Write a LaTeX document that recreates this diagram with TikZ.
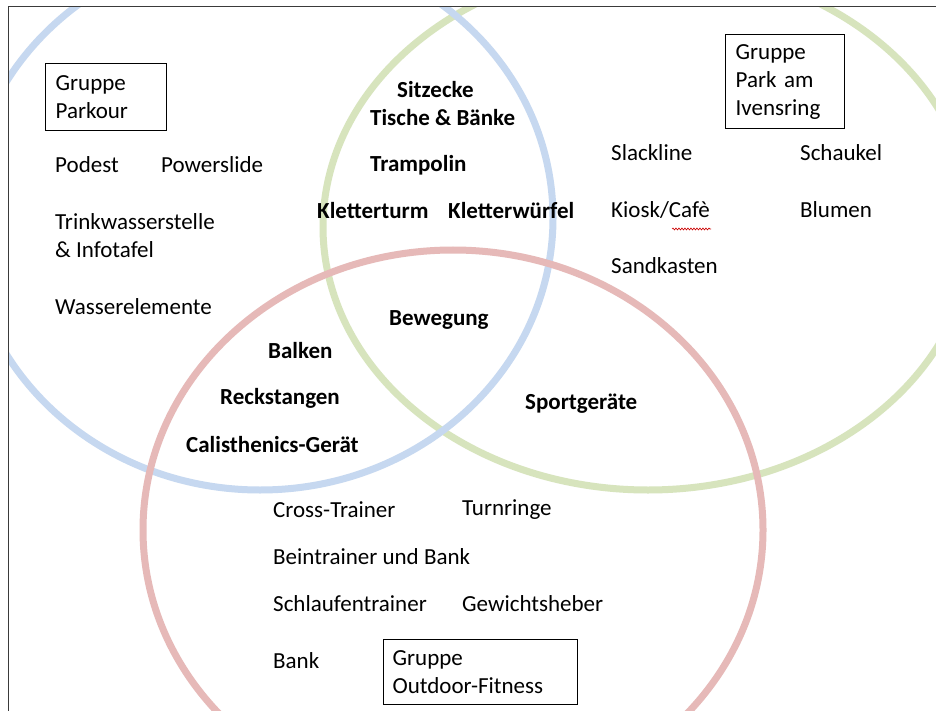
\documentclass[tikz,border=0pt]{standalone}
\usepackage{fontspec}
\setmainfont{Carlito}
\usetikzlibrary{decorations.pathmorphing}
\definecolor{vblue}{HTML}{C6D8F0}
\definecolor{vgreen}{HTML}{D7E4BD}
\definecolor{vred}{HTML}{E6B9B8}
\definecolor{framegray}{HTML}{3A3A3A}
\tikzset{
  ring/.style={line width=7pt},
  lbl/.style={anchor=west, inner sep=0pt, font=\fontsize{23}{28}\selectfont},
  blbl/.style={lbl, font=\fontsize{23}{28}\selectfont\bfseries},
  grpbox/.style={draw=black, line width=1.3pt, fill=white, anchor=north west,
    align=left, inner ysep=0pt, font=\fontsize{23}{28}\selectfont}
}
\begin{document}
\begin{tikzpicture}[x=1pt,y=-1pt]
\useasboundingbox (0,0) rectangle (936,711);
\fill[white] (0,0) rectangle (936,711);
\begin{scope}
  \clip (8,7) rectangle (936,711);
  \draw[ring, vgreen] (648,227) ellipse [x radius=325pt, y radius=263pt];
  \draw[ring, vblue] (260,218) ellipse [x radius=293pt, y radius=272pt];
  \draw[ring, vred] (453,530) ellipse [x radius=310pt, y radius=280pt];
\end{scope}
\draw[framegray, line width=1pt] (8,715) -- (8,7) -- (940,7);

% group boxes
\node[grpbox, inner xsep=10pt, text width=101pt, minimum height=67pt] (gparkour) at (45,63) {Gruppe\\Parkour};
\node[grpbox, inner xsep=10pt, text width=99pt, minimum height=94pt] (gpark) at (725,34) {Gruppe\\Park am\\Ivensring};
\node[grpbox, inner xsep=9pt, text width=176pt, minimum height=65pt] (goutdoor) at (383,639) {Gruppe\\Outdoor-Fitness};

% Parkour only
\node[lbl] (podest) at (55,165) {Podest};
\node[lbl] (powerslide) at (161,165) {Powerslide};
\node[lbl, align=left] (trink) at (55,236) {Trinkwasserstelle\\\& Infotafel};
\node[lbl] (wasser) at (55,307) {Wasserelemente};

% Parkour & Park
\node[blbl] (sitzecke) at (397,90) {Sitzecke};
\node[blbl] (tische) at (370,118) {Tische \& Bänke};
\node[blbl] (trampolin) at (370,165) {Trampolin};
\node[blbl] (kletterturm) at (317,211) {Kletterturm};
\node[blbl] (kletterwuerfel) at (448,211) {Kletterwürfel};

% all three
\node[blbl] (bewegung) at (389,320) {Bewegung};

% Parkour & Fitness
\node[blbl] (balken) at (268,351) {Balken};
\node[blbl] (reck) at (220,398) {Reckstangen};
\node[blbl] (calis) at (186,445) {Calisthenics-Gerät};

% Park & Fitness
\node[blbl] (sport) at (525,404) {Sportgeräte};

% Park only
\node[lbl] (slackline) at (611,153) {Slackline};
\node[lbl] (schaukel) at (800,153) {Schaukel};
\node[lbl] (kiosk) at (611,210) {Kiosk/Cafè};
\node[lbl] (blumen) at (800,210) {Blumen};
\node[lbl] (sandkasten) at (611,266) {Sandkasten};
\draw[red!80!black, line width=0.6pt, decorate, decoration={snake, amplitude=1pt, segment length=3pt}] (672,229) -- (711,229);

% Fitness only
\node[lbl] (cross) at (273,510) {Cross-Trainer};
\node[lbl] (turnringe) at (462,510) {Turnringe};
\node[lbl] (bein) at (273,557) {Beintrainer und Bank};
\node[lbl] (schlaufen) at (273,604) {Schlaufentrainer};
\node[lbl] (gewicht) at (462,604) {Gewichtsheber};
\node[lbl] (bank) at (273,661) {Bank};
\end{tikzpicture}
\end{document}
